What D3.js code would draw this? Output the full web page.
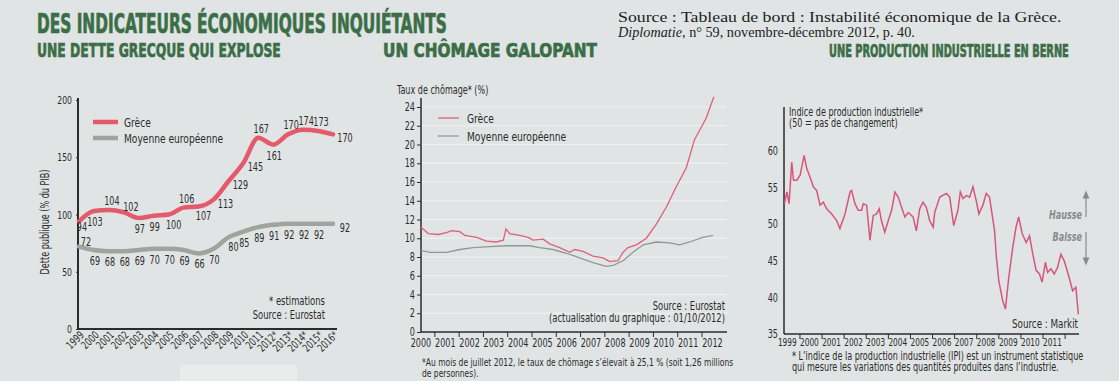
<!DOCTYPE html>
<html>
<head>
<meta charset="utf-8">
<script src="https://cdn.jsdelivr.net/npm/d3@7"></script>
<style>
  body { margin: 0; background: #e1e4e4; }
  svg { display: block; }
  text { font-family: 'Liberation Sans Narrow', 'DejaVu Sans Condensed', 'Arial Narrow', sans-serif; fill: #2b2b2b; }
  .titre { font-family: 'DejaVu Sans Condensed', 'Liberation Sans Narrow', sans-serif; font-weight: bold; fill: #3b6e47; stroke: #3b6e47; stroke-width: 0.7px; }
  .serif { font-family: 'Liberation Serif', 'DejaVu Serif', serif; fill: #1c1c1c; }
  .axe path, .axe line { stroke: #2b2b2b; }
</style>
</head>
<body>
<svg id="chart" width="1119" height="381"></svg>
<script>
'use strict';

// ---- Dette publique (% du PIB) ----
var anneesDette = ['1999', '2000', '2001', '2002', '2003', '2004', '2005', '2006', '2007', '2008',
  '2009', '2010', '2011', '2012*', '2013*', '2014*', '2015*', '2016*'];
var detteGrece = [94, 103, 104, 102, 97, 99, 100, 106, 107, 113, 129, 145, 167, 161, 170, 174, 173, 170];
var detteUE = [72, 69, 68, 68, 69, 70, 70, 69, 66, 70, 80, 85, 89, 91, 92, 92, 92, 92];
var ticksDette = [0, 50, 100, 150, 200];
// placement of the value labels (a = above, b = below, r = right, ar = above right)
var placeGrece = ['bs', 'b', 'a', 'ar', 'b', 'b', 'br', 'a', 'br', 'r', 'r', 'r', 'a', 'b', 'a', 'a', 'a', 'r'];
var placeUE = ['ar', 'b', 'b', 'b', 'b', 'b', 'b', 'b', 'b', 'b', 'br', 'b', 'b', 'b', 'b', 'b', 'b', 'r'];

// ---- Taux de chomage (%) ----
var chomageGreceT = [2000.44, 2000.75, 2001.16, 2001.5, 2001.71, 2002.05, 2002.26, 2002.74, 2003.15, 2003.56,
  2003.84, 2003.95, 2004.1, 2004.52, 2004.86, 2005.07, 2005.48, 2005.75, 2006.16, 2006.58, 2006.78,
  2007.12, 2007.53, 2007.95, 2008.22, 2008.56, 2008.77, 2008.97, 2009.32, 2009.73, 2010.14, 2010.55,
  2010.96, 2011.37, 2011.71, 2011.92, 2012.19, 2012.51];
var chomageGreceV = [11.2, 10.5, 10.4, 10.6, 10.8, 10.7, 10.3, 10.1, 9.7, 9.6,
  9.8, 11.0, 10.5, 10.3, 10.1, 9.8, 9.9, 9.4, 9.0, 8.5, 8.8,
  8.6, 8.1, 7.9, 7.5, 7.6, 8.5, 9.0, 9.3, 10.0, 11.5, 13.3,
  15.5, 17.5, 20.5, 21.5, 22.8, 25.1];
var chomageUET = [2000.44, 2000.82, 2001.5, 2002.05, 2002.6, 2003.28, 2003.96, 2004.92, 2005.33, 2005.88,
  2006.44, 2006.99, 2007.53, 2008.08, 2008.36, 2008.77, 2009.18, 2009.6, 2010.14, 2010.69, 2011.1,
  2011.51, 2012.05, 2012.47];
var chomageUEV = [8.7, 8.5, 8.5, 8.8, 9.0, 9.1, 9.2, 9.2, 9.0, 8.8,
  8.4, 7.9, 7.4, 7.0, 7.1, 7.6, 8.5, 9.3, 9.6, 9.5, 9.3,
  9.6, 10.1, 10.3];
var ticksChomage = [0, 2, 4, 6, 8, 10, 12, 14, 16, 18, 20, 22, 24];
var anneesChomage = [2000, 2001, 2002, 2003, 2004, 2005, 2006, 2007, 2008, 2009, 2010, 2011, 2012];

// ---- Indice de production industrielle ----
var productionT = [1999.32, 1999.43, 1999.53, 1999.65, 1999.73, 1999.88, 2000.03, 2000.21, 2000.33, 2000.48,
  2000.63, 2000.78, 2000.93, 2001.08, 2001.23, 2001.46, 2001.68, 2001.83, 2002.06, 2002.29,
  2002.36, 2002.51, 2002.66, 2002.81, 2002.89, 2003.04, 2003.19, 2003.34, 2003.49, 2003.61,
  2003.71, 2003.86, 2004.02, 2004.17, 2004.32, 2004.47, 2004.62, 2004.77, 2004.92, 2005.14,
  2005.29, 2005.44, 2005.59, 2005.74, 2005.89, 2006.05, 2006.12, 2006.35, 2006.65, 2006.8,
  2006.98, 2007.17, 2007.28, 2007.4, 2007.55, 2007.7, 2007.85, 2008.0, 2008.12, 2008.3,
  2008.45, 2008.6, 2008.68, 2008.83, 2008.9, 2009.02, 2009.2, 2009.32, 2009.47, 2009.65,
  2009.8, 2009.92, 2010.08, 2010.26, 2010.41, 2010.56, 2010.71, 2010.86, 2010.98, 2011.13,
  2011.23, 2011.38, 2011.53, 2011.68, 2011.83, 2011.98, 2012.14, 2012.24, 2012.36, 2012.51, 2012.62];
var productionV = [52.8, 54.4, 52.8, 58.5, 56.0, 56.0, 56.7, 59.4, 57.6, 56.4,
  55.1, 54.6, 52.6, 53.0, 52.1, 51.4, 50.5, 49.4, 51.4, 54.4,
  54.6, 52.8, 51.9, 51.9, 52.8, 52.6, 47.8, 51.2, 51.4, 52.1,
  50.5, 48.9, 50.5, 51.9, 54.4, 53.7, 52.3, 51.0, 51.6, 51.0,
  49.1, 52.1, 53.0, 52.3, 50.5, 49.6, 51.6, 53.7, 54.2, 53.7,
  49.8, 51.9, 54.4, 53.5, 53.9, 53.7, 55.1, 53.2, 51.4, 52.6,
  54.2, 53.7, 52.1, 49.1, 45.9, 42.3, 39.5, 38.4, 42.7, 46.8,
  49.6, 51.0, 48.7, 47.5, 48.4, 45.9, 43.7, 43.2, 42.1, 44.8,
  43.4, 43.9, 43.2, 44.1, 45.9, 45.0, 43.4, 42.3, 40.9, 41.4, 37.7];
var ticksProduction = [35, 40, 45, 50, 55, 60];
var anneesProduction = [1999, 2000, 2001, 2002, 2003, 2004, 2005, 2006, 2007, 2008, 2009, 2010, 2011];

var ROUGE = '#e35a6a';
var GRIS = '#9ea59c';

var svg = d3.select('#chart');

// squeeze a text horizontally around its anchor so that it spans `len` px
function serrer(sel, len) {
  var node = sel.node();
  var k = len / node.getComputedTextLength();
  var ax = +sel.attr('x') || 0;
  sel.attr('transform', 'translate(' + ax + ',0) scale(' + k + ',1) translate(' + (-ax) + ',0)');
}

// ---------- headings ----------
function titre(txt, x, y, size, len) {
  var t = svg.append('text').attr('class', 'titre')
    .attr('x', x).attr('y', y)
    .attr('font-size', size)
    .text(txt);
  serrer(t, len);
}
titre('DES INDICATEURS ÉCONOMIQUES INQUIÉTANTS', 37, 33, 26, 410);
titre('UNE DETTE GRECQUE QUI EXPLOSE', 37, 57, 20, 244);
titre('UN CHÔMAGE GALOPANT', 383, 57, 20, 214);
titre('UNE PRODUCTION INDUSTRIELLE EN BERNE', 829, 57, 17, 240);

serrer(svg.append('text').attr('class', 'serif').attr('font-size', 14)
  .attr('x', 618).attr('y', 22)
  .text('Source : Tableau de bord : Instabilité économique de la Grèce.'), 444);
var src2 = svg.append('text').attr('class', 'serif').attr('font-size', 14)
  .attr('x', 618).attr('y', 37);
src2.append('tspan').attr('font-style', 'italic').text('Diplomatie');
src2.append('tspan').text(', n° 59, novembre-décembre 2012, p. 40.');
serrer(src2, 297);

// ---------- chart 1 : dette ----------
(function () {
  var g = svg.append('g');
  var x = d3.scalePoint().domain(anneesDette).range([79, 333]);
  var y = d3.scaleLinear().domain([0, 200]).range([329, 100]);

  g.append('rect').attr('x', 180).attr('y', 365).attr('width', 117).attr('height', 16).attr('fill', '#eaecec');

  var ya = g.append('g').attr('class', 'axe').attr('transform', 'translate(78,0)')
    .call(d3.axisLeft(y).tickValues(ticksDette).tickSize(2).tickPadding(4));
  ya.select('.domain').attr('stroke-width', 2).attr('d', 'M0,' + (y(200) - 2) + 'V' + (y(0) + 1));
  ya.selectAll('text').attr('font-size', 11);

  var xa = g.append('g').attr('class', 'axe').attr('transform', 'translate(0,329)')
    .call(d3.axisBottom(x).tickSize(0).tickPadding(3));
  xa.select('.domain').attr('stroke-width', 2).attr('d', 'M77,0H337');
  xa.selectAll('text').attr('font-size', 11)
    .attr('text-anchor', 'end').attr('dy', '0.5em').attr('dx', '-0.1em')
    .attr('transform', 'rotate(-45)');

  g.append('text').attr('transform', 'translate(49,222) rotate(-90)')
    .attr('text-anchor', 'middle').attr('font-size', 11.5)
    .text('Dette publique (% du PIB)');

  var line = function (vals) {
    return d3.line().curve(d3.curveMonotoneX)
      .x(function (d, i) { return x(anneesDette[i]); })
      .y(function (d) { return y(d); })(vals);
  };
  g.append('path').attr('d', line(detteUE)).attr('fill', 'none')
    .attr('stroke', GRIS).attr('stroke-width', 4.5).attr('stroke-linecap', 'round');
  g.append('path').attr('d', line(detteGrece)).attr('fill', 'none')
    .attr('stroke', ROUGE).attr('stroke-width', 4.5).attr('stroke-linecap', 'round');

  var off = {
    a: [3, -9], b: [1, 11], bs: [3, 6], br: [5, 10], r: [12, 4], ar: [7, -5]
  };
  function etiquettes(vals, place) {
    g.append('g').selectAll('text').data(vals).enter().append('text')
      .attr('x', function (d, i) { return x(anneesDette[i]) + off[place[i]][0]; })
      .attr('y', function (d, i) { return y(d) + off[place[i]][1]; })
      .attr('dy', '0.35em').attr('text-anchor', 'middle').attr('font-size', 11.5)
      .text(function (d) { return d; });
  }
  etiquettes(detteGrece, placeGrece);
  etiquettes(detteUE, placeUE);

  // legend
  var lg = g.append('g');
  [['Grèce', ROUGE, 122], ['Moyenne européenne', GRIS, 138]].forEach(function (l) {
    lg.append('line').attr('x1', 93).attr('x2', 118).attr('y1', l[2]).attr('y2', l[2])
      .attr('stroke', l[1]).attr('stroke-width', 4.5);
    lg.append('text').attr('x', 124).attr('y', l[2]).attr('dy', '0.35em')
      .attr('font-size', 13).text(l[0]);
  });

  g.append('text').attr('x', 325).attr('y', 305).attr('text-anchor', 'end').attr('font-size', 12).text('* estimations');
  g.append('text').attr('x', 325).attr('y', 319).attr('text-anchor', 'end').attr('font-size', 12).text('Source : Eurostat');
})();

// ---------- chart 2 : chomage ----------
(function () {
  var g = svg.append('g');
  var x = d3.scaleLinear().domain([2000.45, 2013.05]).range([421, 727]);
  var y = d3.scaleLinear().domain([0, 24]).range([332, 107]);

  g.append('g').selectAll('line').data(ticksChomage.slice(1)).enter().append('line')
    .attr('x1', 421).attr('x2', 727)
    .attr('y1', function (d) { return y(d); }).attr('y2', function (d) { return y(d); })
    .attr('stroke', '#f1f2f2').attr('stroke-width', 1.2);

  var ya = g.append('g').attr('class', 'axe').attr('transform', 'translate(421,0)')
    .call(d3.axisLeft(y).tickValues(ticksChomage).tickSize(4).tickPadding(2));
  ya.select('.domain').attr('stroke-width', 1.5).attr('d', 'M0,98V332');
  ya.selectAll('text').attr('font-size', 11.5);

  var xa = g.append('g').attr('class', 'axe').attr('transform', 'translate(0,332)')
    .call(d3.axisBottom(x).tickValues(anneesChomage.slice(1)).tickSize(5).tickFormat(''));
  xa.select('.domain').attr('stroke-width', 1.5).attr('d', 'M421,0H727');
  g.append('g').selectAll('text').data(anneesChomage).enter().append('text')
    .attr('x', function (d) { return x(d + 0.45); }).attr('y', 343).attr('dy', '0.35em')
    .attr('text-anchor', 'middle').attr('font-size', 11.5)
    .text(function (d) { return d; });

  g.append('text').attr('x', 397).attr('y', 90).attr('dy', '0.35em').attr('font-size', 11.5)
    .text('Taux de chômage* (%)');

  function courbe(t, v, col) {
    g.append('path').attr('fill', 'none').attr('stroke', col).attr('stroke-width', 1.3)
      .attr('d', d3.line().x(function (d, i) { return x(t[i]); }).y(function (d) { return y(d); })(v));
  }
  courbe(chomageUET, chomageUEV, '#8e9994');
  courbe(chomageGreceT, chomageGreceV, '#de6079');

  [['Grèce', '#de6079', 118], ['Moyenne européenne', '#8e9994', 136]].forEach(function (l) {
    g.append('line').attr('x1', 438).attr('x2', 459).attr('y1', l[2]).attr('y2', l[2])
      .attr('stroke', l[1]).attr('stroke-width', 1.3);
    g.append('text').attr('x', 467).attr('y', l[2]).attr('dy', '0.35em').attr('font-size', 13).text(l[0]);
  });

  g.append('text').attr('x', 725).attr('y', 310).attr('text-anchor', 'end').attr('font-size', 12).text('Source : Eurostat');
  g.append('text').attr('x', 725).attr('y', 322).attr('text-anchor', 'end').attr('font-size', 12)
    .text('(actualisation du graphique : 01/10/2012)');

  g.append('text').attr('x', 422).attr('y', 366).attr('font-size', 10.8)
    .text('*Au mois de juillet 2012, le taux de chômage s\u2019élevait à 25,1 % (soit 1,26 millions');
  g.append('text').attr('x', 422).attr('y', 377).attr('font-size', 10.8).text('de personnes).');
})();

// ---------- chart 3 : production ----------
(function () {
  var g = svg.append('g');
  var x = d3.scaleLinear().domain([1999.3, 2012.65]).range([784, 1079]);
  var y = d3.scaleLinear().domain([35, 60]).range([334, 151]);

  var ya = g.append('g').attr('class', 'axe').attr('transform', 'translate(784,0)')
    .call(d3.axisLeft(y).tickValues(ticksProduction).tickSize(0).tickPadding(6));
  ya.select('.domain').attr('stroke-width', 1.5).attr('d', 'M0,107V334');
  ya.selectAll('text').attr('font-size', 11.5);

  var xa = g.append('g').attr('class', 'axe').attr('transform', 'translate(0,334)')
    .call(d3.axisBottom(x).tickValues(anneesProduction.slice(1).concat([2012])).tickSize(5).tickFormat(''));
  xa.select('.domain').attr('stroke-width', 1.5).attr('d', 'M784,0H1079');
  g.append('g').selectAll('text').data(anneesProduction).enter().append('text')
    .attr('x', function (d) { return x(d + 0.45); }).attr('y', 342).attr('dy', '0.35em')
    .attr('text-anchor', 'middle').attr('font-size', 10.5)
    .text(function (d) { return d; });

  g.append('text').attr('x', 789).attr('y', 112).attr('dy', '0.35em').attr('font-size', 11.5)
    .text('Indice de production industrielle*');
  g.append('text').attr('x', 789).attr('y', 123).attr('dy', '0.35em').attr('font-size', 11.5)
    .text('(50 = pas de changement)');

  g.append('path').attr('fill', 'none').attr('stroke', '#d6567c').attr('stroke-width', 1.5)
    .attr('d', d3.line().x(function (d, i) { return x(productionT[i]); }).y(function (d) { return y(d); })(productionV));

  // Hausse / Baisse arrows
  var ar = g.append('g').attr('stroke', '#8a8a8a').attr('stroke-width', 1.2);
  ar.append('line').attr('x1', 1086).attr('x2', 1086).attr('y1', 217).attr('y2', 193);
  ar.append('path').attr('d', 'M1083.5,198L1086,192L1088.5,198Z').attr('fill', '#8a8a8a');
  ar.append('line').attr('x1', 1086).attr('x2', 1086).attr('y1', 232).attr('y2', 263);
  ar.append('path').attr('d', 'M1083.5,258L1086,264L1088.5,258Z').attr('fill', '#8a8a8a');
  g.append('text').attr('x', 1082).attr('y', 215).attr('dy', '0.35em').attr('text-anchor', 'end')
    .attr('font-size', 11.5).attr('font-style', 'italic').attr('font-weight', 'bold')
    .style('fill', '#8a8a8a').text('Hausse');
  g.append('text').attr('x', 1082).attr('y', 237).attr('dy', '0.35em').attr('text-anchor', 'end')
    .attr('font-size', 11.5).attr('font-style', 'italic').attr('font-weight', 'bold')
    .style('fill', '#8a8a8a').text('Baisse');

  g.append('text').attr('x', 1078).attr('y', 328).attr('text-anchor', 'end').attr('font-size', 12.5).text('Source : Markit');
  g.append('text').attr('x', 792).attr('y', 360).attr('font-size', 11.5)
    .text('* L\u2019indice de la production industrielle (IPI) est un instrument statistique');
  g.append('text').attr('x', 792).attr('y', 371).attr('font-size', 11.5)
    .text('qui mesure les variations des quantités produites dans l\u2019industrie.');
})();

// The print uses a condensed face: squeeze every plain text horizontally
// around its anchor point (rotated texts get a textLength instead)
var SERRE = 0.78;
svg.selectAll('text').filter(function () {
  var c = this.getAttribute('class');
  return c !== 'titre' && c !== 'serif';
}).each(function () {
  var t = d3.select(this);
  if (t.attr('transform')) {
    t.attr('textLength', this.getComputedTextLength() * SERRE).attr('lengthAdjust', 'spacingAndGlyphs');
    return;
  }
  serrer(t, this.getComputedTextLength() * SERRE);
});
</script>
</body>
</html>
